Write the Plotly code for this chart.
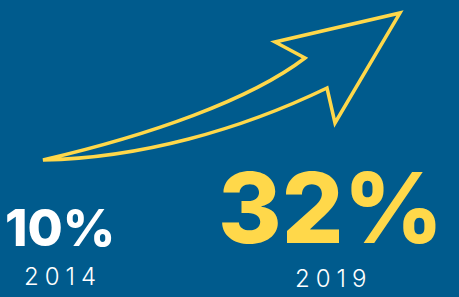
import plotly.graph_objects as go

# data
years = ["2014", "2019"]
shares = [10, 32]

# styling / placement (pixel-like canvas coordinates)
label_x = [60, 330]
value_y = [227, 207]
value_size = [51, 97]
value_color = ["#FFFFFF", "#FFD84A"]
year_y = [276, 278]
year_size = [24, 24]

BG = "#005B8D"
YEL = "#FFD84A"

fig = go.Figure()

# invisible trace to hold the axes
fig.add_trace(go.Scatter(x=[0, 459], y=[0, 297], mode="markers",
                         marker=dict(opacity=0), hoverinfo="skip", showlegend=False))

# decorative arrow
arrow_path = ("M 43 160 C 150 135 250 100 305 58 "
              "L 275 42 L 400 13 L 335 123 L 327 88 "
              "C 240 130 140 158 43 160 Z")
fig.add_shape(type="path", path=arrow_path, xref="x", yref="y",
              line=dict(color=YEL, width=3.5), fillcolor="rgba(0,0,0,0)")

for i, (yr, v) in enumerate(zip(years, shares)):
    fig.add_annotation(x=label_x[i], y=value_y[i], xref="x", yref="y",
                       text=f"{v}%", showarrow=False,
                       font=dict(family="Inter", size=value_size[i], color=value_color[i], weight=800),
                       xanchor="center", yanchor="middle")
    fig.add_annotation(x=label_x[i], y=year_y[i], xref="x", yref="y",
                       text="\u2005".join(yr), showarrow=False,
                       font=dict(family="Inter", size=year_size[i], color="#FFFFFF", weight=300),
                       xanchor="center", yanchor="middle")

fig.update_layout(
    width=459, height=297,
    margin=dict(l=0, r=0, t=0, b=0),
    paper_bgcolor=BG, plot_bgcolor=BG,
    xaxis=dict(range=[0, 459], visible=False, fixedrange=True),
    yaxis=dict(range=[297, 0], visible=False, fixedrange=True),
    showlegend=False,
)

fig.write_html("out.html", config={"displayModeBar": False},
               post_script="document.body.style.margin='0';")
